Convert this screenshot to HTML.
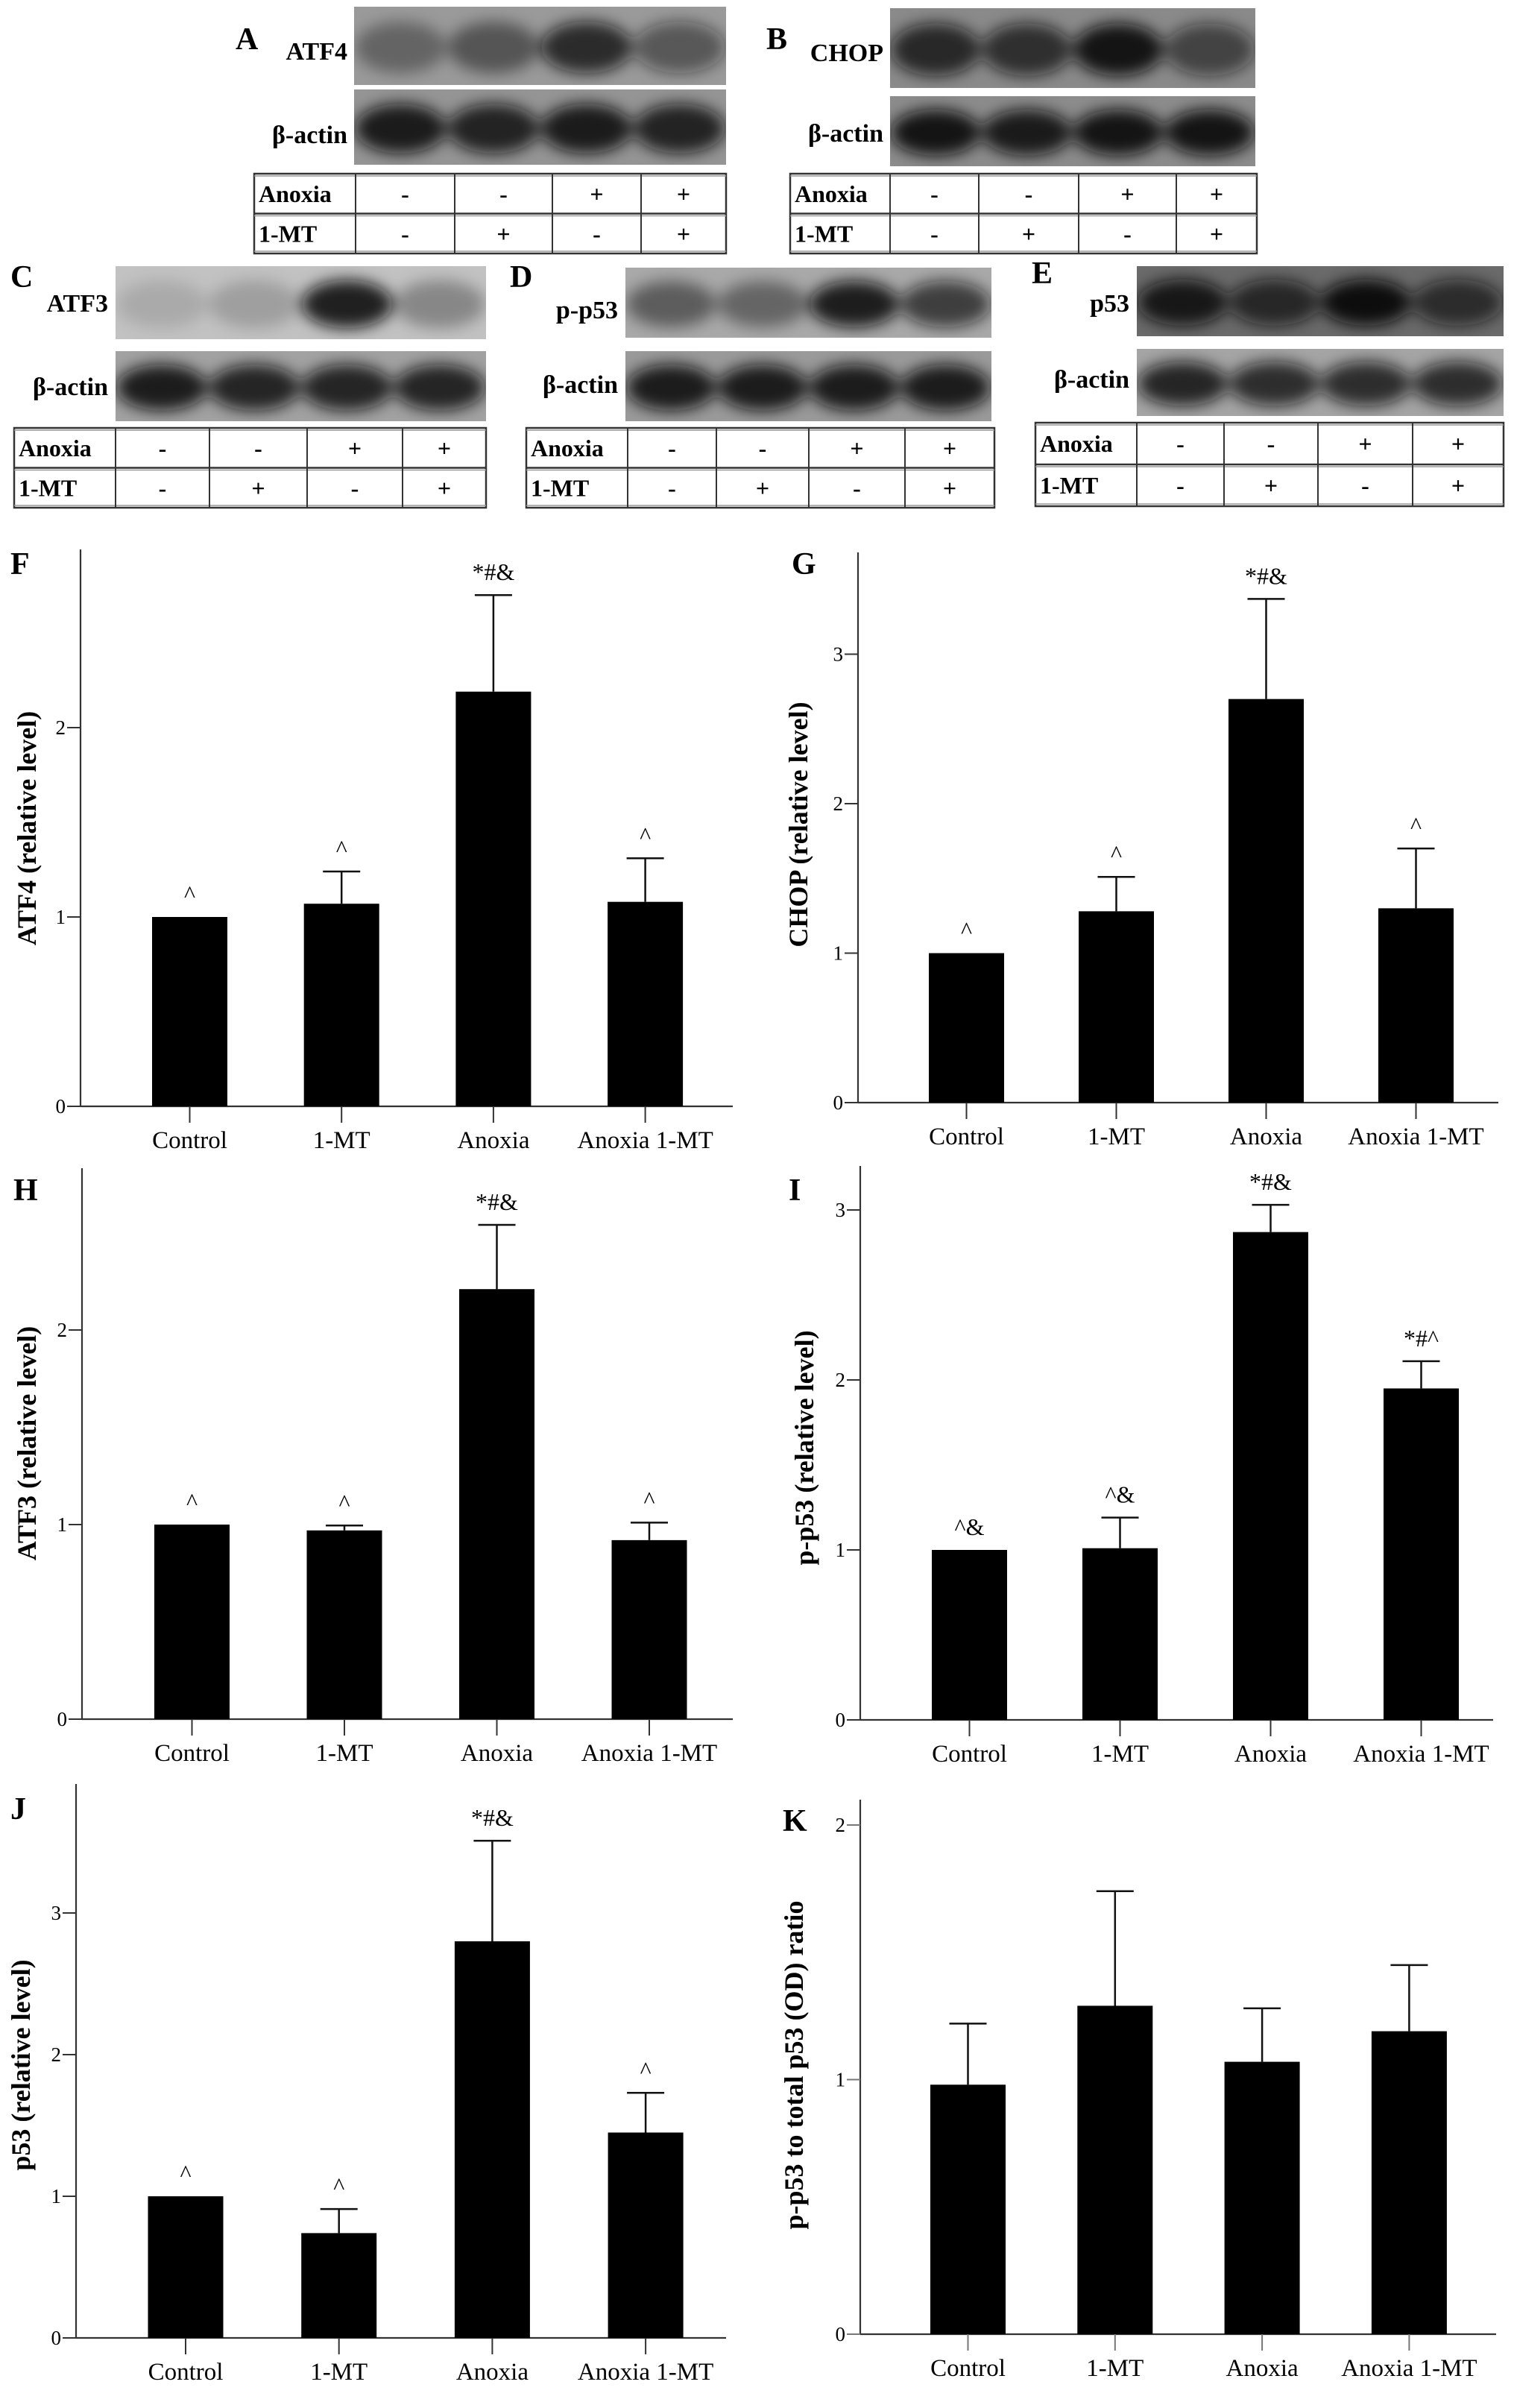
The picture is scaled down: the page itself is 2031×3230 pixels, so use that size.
<!DOCTYPE html>
<html><head><meta charset="utf-8"><style>
html,body{margin:0;padding:0;background:#fff;}
svg{display:block;}
text{font-family:"Liberation Serif",serif;}
</style></head><body>
<svg id="fig" width="2031" height="3230" viewBox="0 0 2031 3230" xmlns="http://www.w3.org/2000/svg">
<defs><filter id="blur" x="-30%" y="-50%" width="160%" height="200%"><feGaussianBlur stdDeviation="10"/></filter></defs>
</svg>
<script>
const categories = ["Control", "1-MT", "Anoxia", "Anoxia 1-MT"];
const atf4Values = [1.0, 1.07, 2.19, 1.08];
const atf4Err = [1.0, 1.24, 2.70, 1.31];
const atf4Marks = ["^", "^", "*#&", "^"];
const chopValues = [1.0, 1.28, 2.70, 1.30];
const chopErr = [1.0, 1.51, 3.37, 1.70];
const chopMarks = ["^", "^", "*#&", "^"];
const atf3Values = [1.0, 0.97, 2.21, 0.92];
const atf3Err = [1.0, 0.995, 2.54, 1.01];
const atf3Marks = ["^", "^", "*#&", "^"];
const pp53Values = [1.0, 1.01, 2.87, 1.95];
const pp53Err = [1.0, 1.19, 3.03, 2.11];
const pp53Marks = ["^&", "^&", "*#&", "*#^"];
const p53Values = [1.0, 0.74, 2.80, 1.45];
const p53Err = [1.0, 0.91, 3.51, 1.73];
const p53Marks = ["^", "^", "*#&", "^"];
const ratioValues = [0.98, 1.29, 1.07, 1.19];
const ratioErr = [1.22, 1.74, 1.28, 1.45];
const ratioMarks = ["", "", "", ""];
const ticks3 = [0, 1, 2];
const ticks4 = [0, 1, 2, 3];
const anoxiaRow = ["-", "-", "+", "+"];
const mtRow = ["-", "+", "-", "+"];

const NS = "http://www.w3.org/2000/svg";
const svg = document.getElementById("fig");
function mk(tag, attrs, parent) {
  const e = document.createElementNS(NS, tag);
  for (const k in attrs) e.setAttribute(k, attrs[k]);
  (parent || svg).appendChild(e);
  return e;
}
function txt(str, attrs, parent) { const t = mk("text", attrs, parent); t.textContent = str; return t; }

function blot(name, x, y, w, h, bg, dens) {
  const g = mk("g", {});
  
  
  mk("rect", {x: x, y: y, width: w, height: h, fill: bg}, g);
  const cp = mk("clipPath", {id: "cp-" + name}, g);
  mk("rect", {x: x, y: y, width: w, height: h}, cp);
  const bands = mk("g", {"clip-path": "url(#cp-" + name + ")", filter: "url(#blur)"}, g);
  dens.forEach(function (d, i) {
    const b = mk("ellipse", {cx: x + w * (i + 0.5) / 4, cy: y + h * 0.52, rx: w / 8 * 0.98, ry: h * 0.33, fill: "#0d0d0d", opacity: d}, bands);
    
    
  });
  return g;
}
function blotLabel(name, str, xr, y) {
  const t = txt(str, {x: xr, y: y, "font-size": 34, "font-weight": "bold", "text-anchor": "end"});
  
  
}
function panelLetter(str, x, y) {
  const t = txt(str, {x: x, y: y, "font-size": 42, "font-weight": "bold"});
  
  
}
function table(name, x0, x1, y0, y1, divs) {
  const g = mk("g", {});
  
  
  const ym = (y0 + y1) / 2;
  mk("rect", {x: x0, y: y0, width: x1 - x0, height: y1 - y0, fill: "none", stroke: "#333", "stroke-width": 2.5}, g);
  mk("line", {x1: x0, x2: x1, y1: y0 + 3, y2: y0 + 3, stroke: "#999", "stroke-width": 1.5}, g);
  mk("line", {x1: x0, x2: x1, y1: ym, y2: ym, stroke: "#333", "stroke-width": 2.5}, g);
  mk("line", {x1: x0, x2: x1, y1: ym + 3, y2: ym + 3, stroke: "#999", "stroke-width": 1.5}, g);
  mk("line", {x1: x0, x2: x1, y1: y1 - 3, y2: y1 - 3, stroke: "#999", "stroke-width": 1.5}, g);
  divs.forEach(function (d) { mk("line", {x1: d, x2: d, y1: y0, y2: y1, stroke: "#333", "stroke-width": 2}, g); });
  const t1 = txt("Anoxia", {x: x0 + 6, y: y0 + (ym - y0) / 2 + 11, "font-size": 32, "font-weight": "bold"}, g);
  
  
  const t2 = txt("1-MT", {x: x0 + 6, y: ym + (y1 - ym) / 2 + 11, "font-size": 32, "font-weight": "bold"}, g);
  
  
  const edges = divs.concat([x1]);
  for (let i = 0; i < 4; i++) {
    const cx = (edges[i] + edges[i + 1]) / 2;
    const a = txt(anoxiaRow[i], {x: cx, y: y0 + (ym - y0) / 2 + 11, "font-size": 32, "font-weight": "bold", "text-anchor": "middle"}, g);
    
    
    const m = txt(mtRow[i], {x: cx, y: ym + (y1 - ym) / 2 + 11, "font-size": 32, "font-weight": "bold", "text-anchor": "middle"}, g);
    
    
  }
}

panelLetter("A", 316, 66);
blot("atf4-blot", 475, 9, 499, 105, "#9a9a9a", [0.35, 0.45, 0.8, 0.5]);
blot("actin-blot-a", 475, 120, 499, 101, "#959595", [0.9, 0.85, 0.9, 0.85]);
blotLabel("atf4-label", "ATF4", 466, 80);
blotLabel("actin-label-a", "β-actin", 466, 192);
table("table-a", 341, 974, 233, 340, [477, 610, 741, 860]);
panelLetter("B", 1028, 66);
blot("chop-blot", 1194, 11, 490, 107, "#8a8a8a", [0.8, 0.75, 0.95, 0.6]);
blot("actin-blot-b", 1194, 129, 490, 94, "#8c8c8c", [0.95, 0.9, 0.95, 0.95]);
blotLabel("chop-label", "CHOP", 1185, 82);
blotLabel("actin-label-b", "β-actin", 1185, 190);
table("table-b", 1060, 1686, 233, 340, [1194, 1313, 1447, 1578]);
panelLetter("C", 14, 385);
blot("atf3-blot", 155, 357, 497, 98, "#c2c2c2", [0.12, 0.18, 0.9, 0.3]);
blot("actin-blot-c", 155, 471, 497, 94, "#a2a2a2", [0.9, 0.85, 0.85, 0.85]);
blotLabel("atf3-label", "ATF3", 145, 418);
blotLabel("actin-label-c", "β-actin", 145, 530);
table("table-c", 19, 652, 574, 681, [155, 281, 412, 540]);
panelLetter("D", 684, 385);
blot("pp53-blot", 839, 359, 491, 94, "#a9a9a9", [0.45, 0.4, 0.9, 0.7]);
blot("actin-blot-d", 839, 471, 491, 94, "#9a9a9a", [0.9, 0.9, 0.9, 0.9]);
blotLabel("pp53-label", "p-p53", 829, 427);
blotLabel("actin-label-d", "β-actin", 829, 527);
table("table-d", 706, 1334, 574, 681, [842, 961, 1085, 1214]);
panelLetter("E", 1384, 380);
blot("p53-blot", 1525, 357, 492, 94, "#6a6a6a", [0.9, 0.75, 1.0, 0.7]);
blot("actin-blot-e", 1525, 468, 492, 90, "#a5a5a5", [0.85, 0.8, 0.8, 0.8]);
blotLabel("p53-blot-label", "p53", 1515, 418);
blotLabel("actin-label-e", "β-actin", 1515, 520);
table("table-e", 1389, 2017, 567, 679, [1525, 1642, 1768, 1895]);

function barChart(cfg, values, errs, marks, ticks) {
  const g = mk("g", {});
  
  
  const yS = function (v) { return cfg.y0 - v * cfg.unit; };
  const xS = function (i) { return cfg.ax + cfg.off + i * cfg.step; };
  const axisColor = cfg.gray ? "#777" : "#333";
  const ya = mk("line", {x1: cfg.ax, x2: cfg.ax, y1: cfg.top, y2: cfg.y0, stroke: "#333", "stroke-width": 2.2}, g);
  
  
  const xa = mk("line", {x1: cfg.ax, x2: cfg.right, y1: cfg.y0, y2: cfg.y0, stroke: "#333", "stroke-width": 2.2}, g);
  
  
  ticks.forEach(function (t) {
    const y = yS(t);
    mk("line", {x1: cfg.ax - 18, x2: cfg.ax, y1: y, y2: y, stroke: axisColor, "stroke-width": 2}, g);
    const tl = txt(String(t), {x: cfg.ax - 20, y: y + 9, "font-size": 27, "text-anchor": "end"}, g);
    
    
  });
  const bw = 101;
  values.forEach(function (v, i) {
    const cx = xS(i);
    const r = mk("rect", {x: cx - bw / 2, y: yS(v), width: bw, height: cfg.y0 - yS(v), fill: "#000"}, g);
    
    
    if (errs[i] > v + 0.005) {
      const e1 = mk("line", {x1: cx, x2: cx, y1: yS(v), y2: yS(errs[i]), stroke: "#111", "stroke-width": 2.5}, g);
      
      
      mk("line", {x1: cx - 25, x2: cx + 25, y1: yS(errs[i]), y2: yS(errs[i]), stroke: "#111", "stroke-width": 2.5}, g);
    }
    mk("line", {x1: cx, x2: cx, y1: cfg.y0, y2: cfg.y0 + 22, stroke: axisColor, "stroke-width": 2}, g);
    const xl = txt(categories[i], {x: cx, y: cfg.y0 + 56, "font-size": 33, "text-anchor": "middle"}, g);
    
    
    if (marks[i]) {
      const m = txt(marks[i], {x: cx, y: yS(Math.max(v, errs[i])) - 20, "font-size": 32, "text-anchor": "middle"}, g);
      
      
    }
  });
  const tt = txt(cfg.title, {x: 0, y: 0, "font-size": 36, "font-weight": "bold", "text-anchor": "middle", transform: "translate(" + cfg.tx + "," + cfg.ty + ") rotate(-90)"}, g);
  
  
  const pl = txt(cfg.letter, {x: cfg.lx, y: cfg.ly, "font-size": 42, "font-weight": "bold"}, g);
  
  
}

barChart({name: "chart-f-atf4", ax: 108, y0: 1484, unit: 254, top: 737, right: 983, off: 146.5, step: 203.7, title: "ATF4 (relative level)", tx: 48, ty: 1111, letter: "F", lx: 14, ly: 770}, atf4Values, atf4Err, atf4Marks, ticks3);
barChart({name: "chart-g-chop", ax: 1151, y0: 1479, unit: 200.5, top: 741, right: 2010, off: 145.5, step: 201, title: "CHOP (relative level)", tx: 1083, ty: 1106, letter: "G", lx: 1062, ly: 770}, chopValues, chopErr, chopMarks, ticks4);
barChart({name: "chart-h-atf3", ax: 110, y0: 2306, unit: 261, top: 1567, right: 983, off: 147.5, step: 204.5, title: "ATF3 (relative level)", tx: 48, ty: 1936, letter: "H", lx: 18, ly: 1610}, atf3Values, atf3Err, atf3Marks, ticks3);
barChart({name: "chart-i-pp53", ax: 1154, y0: 2307, unit: 228, top: 1564, right: 2003, off: 146.5, step: 202, title: "p-p53 (relative level)", tx: 1091, ty: 1942, letter: "I", lx: 1058, ly: 1610}, pp53Values, pp53Err, pp53Marks, ticks4);
barChart({name: "chart-j-p53", ax: 102, y0: 3136, unit: 190, top: 2393, right: 974, off: 147, step: 205.7, title: "p53 (relative level)", tx: 40, ty: 2770, letter: "J", lx: 14, ly: 2440}, p53Values, p53Err, p53Marks, ticks4);
barChart({name: "chart-k-ratio", ax: 1154, y0: 3131, unit: 341.5, top: 2414, right: 2007, off: 144.5, step: 197.3, title: "p-p53 to total p53 (OD) ratio", tx: 1077, ty: 2770, letter: "K", lx: 1050, ly: 2456, gray: true}, ratioValues, ratioErr, ratioMarks, ticks3);
</script>
</body></html>
